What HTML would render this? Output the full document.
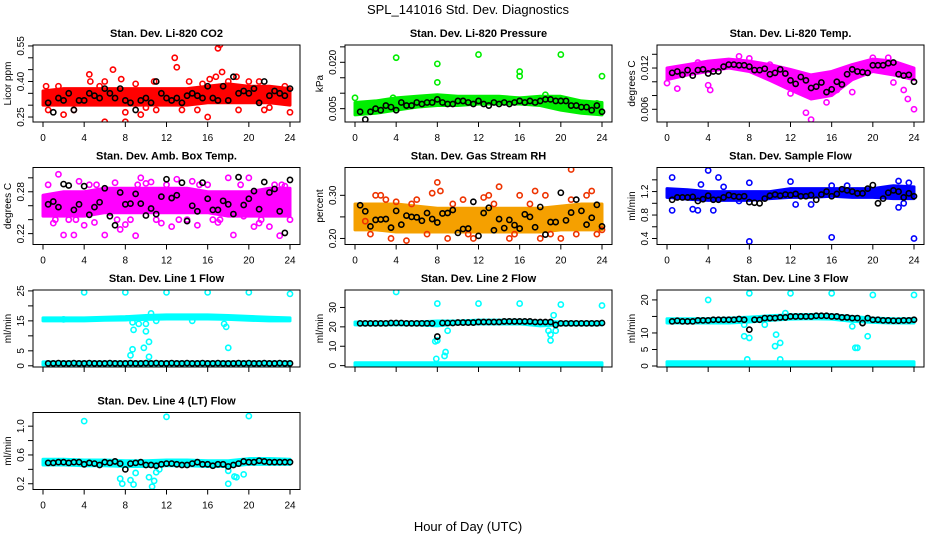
<!DOCTYPE html>
<html><head><meta charset="utf-8"><style>
html,body{margin:0;padding:0;background:#fff;}
svg{display:block;font-family:"Liberation Sans",sans-serif;}
</style></head><body>
<svg id="chart" width="936" height="540" viewBox="0 0 936 540" xmlns="http://www.w3.org/2000/svg">
<rect width="936" height="540" fill="#fff"/>
<text x="468" y="14" text-anchor="middle" font-size="13">SPL_141016  Std. Dev. Diagnostics</text>
<text x="468" y="531" text-anchor="middle" font-size="13">Hour of Day (UTC)</text>
</svg>
<script>
const bandHours=[0,2,4,6,8,10,12,14,16,18,20,22,24];
const blackHours=[0.5,1,1.5,2,2.5,3,3.5,4,4.5,5,5.5,6,6.5,7,7.5,8,8.5,9,9.5,10,10.5,11,11.5,12,12.5,13,13.5,14,14.5,15,15.5,16,16.5,17,17.5,18,18.5,19,19.5,20,20.5,21,21.5,22,22.5,23,23.5,24];
const xTicks=[0,4,8,12,16,20,24];

const co2BandLow=[.30,.30,.30,.30,.30,.30,.30,.30,.31,.31,.31,.31,.30];
const co2BandHigh=[.36,.37,.37,.37,.37,.37,.37,.37,.38,.39,.38,.38,.37];
const co2OutX=[0.3,0.5,2,4.5,4.6,6,6,6.8,7.6,8,8,9.5,10.8,11,12.8,13,14.2,15,16,16.2,16.8,17,17.2,17.4,18,18.8,20,21.5,23.5,24,3,10,13.5,19,22,1.5,5.5,9,15.5,21];
const co2OutY=[.38,.28,.26,.43,.40,.40,.23,.45,.41,.23,.27,.26,.40,.28,.50,.46,.40,.28,.25,.41,.42,.54,.555,.44,.40,.42,.40,.28,.38,.27,.28,.29,.28,.28,.29,.38,.38,.39,.39,.40];
const co2Black=[.31,.27,.33,.32,.35,.28,.32,.32,.35,.34,.33,.37,.35,.33,.37,.32,.31,.28,.32,.33,.31,.40,.35,.33,.32,.33,.31,.34,.35,.34,.33,.38,.33,.32,.38,.32,.42,.35,.36,.35,.37,.31,.40,.34,.36,.35,.34,.37];

const presBandLow=[.003,.0035,.0045,.0055,.006,.006,.0065,.0065,.0065,.006,.0045,.0035,.003];
const presBandHigh=[.007,.0075,.0085,.009,.0095,.009,.009,.009,.0085,.009,.009,.0075,.007];
const presOutX=[0,4,8,8,12,16,16,20,24,23.5,18.5,3.7];
const presOutY=[.0085,.0215,.0195,.0135,.0225,.017,.0155,.0225,.0155,.0067,.0095,.0085];
const presBlack=[.004,.0015,.004,.005,.0045,.006,.0055,.0045,.007,.006,.006,.007,.0065,.007,.007,.008,.007,.0065,.0065,.0075,.0075,.007,.0065,.0075,.0065,.006,.007,.0065,.007,.0065,.007,.0075,.007,.0075,.007,.0075,.008,.008,.0075,.0075,.0075,.006,.006,.0055,.0055,.0045,.006,.004];

const tempBandLow=[.0103,.011,.0115,.012,.0115,.0102,.0088,.0075,.008,.0103,.0115,.011,.0103];
const tempBandHigh=[.012,.0125,.013,.0133,.013,.0125,.0118,.011,.0115,.0125,.0133,.013,.012];
const tempOutX=[0,1,3,4,4.2,7,8,10,12,13.5,14,15.5,16.5,18,20,21.5,22,23.4,24,23,11.5,9];
const tempOutY=[.0098,.009,.0128,.0095,.0088,.0137,.0134,.0125,.0083,.0055,.0045,.007,.0088,.0085,.0135,.0135,.0099,.0075,.006,.0088,.0113,.012];
const tempBlack=[.0113,.0115,.011,.0117,.0109,.0117,.0118,.0112,.0115,.0115,.0122,.0125,.0125,.0124,.0124,.0122,.0117,.0117,.0119,.0111,.0113,.0118,.0112,.0102,.0097,.0107,.0102,.0091,.0093,.0099,.0085,.0089,.0100,.0096,.0111,.0118,.0115,.0114,.0113,.0124,.0124,.0124,.0127,.0128,.0111,.0109,.0110,.0100];

const boxBandLow=[.245,.245,.245,.25,.25,.25,.25,.25,.25,.245,.245,.245,.245];
const boxBandHigh=[.275,.28,.28,.285,.285,.285,.285,.285,.28,.28,.28,.285,.285];
const boxOutX=[0.5,1,1.5,2,3,3.5,4,4.5,5,5.5,6,7,7.5,8,8.5,9,9.5,10,10.5,11,12,12.5,13,14,14.5,15,16,16.5,17,18,18.5,19.5,20,20.5,21,22,22.5,23,23.5,24,0.2,2.5,6.5,11.5,19,21.5,1.2,3.2,5.2,7.2,9.2,13.2,15.2,17.2,19.2,21.2,23.2];
const boxOutY=[.29,.235,.305,.218,.218,.295,.232,.29,.236,.27,.218,.293,.226,.233,.24,.217,.3,.292,.294,.24,.29,.23,.298,.24,.295,.232,.29,.24,.236,.3,.218,.245,.3,.23,.235,.23,.29,.217,.288,.24,.26,.24,.25,.235,.25,.27,.24,.24,.29,.24,.29,.24,.29,.24,.29,.24,.29];
const boxBlack=[.262,.266,.258,.291,.289,.254,.262,.288,.247,.258,.265,.285,.245,.232,.279,.262,.263,.277,.263,.246,.256,.248,.273,.298,.271,.275,.293,.238,.26,.252,.293,.27,.254,.254,.267,.262,.248,.301,.261,.27,.281,.255,.294,.279,.284,.252,.221,.297];

const rhBandLow=[.22,.22,.215,.215,.215,.215,.215,.215,.215,.215,.22,.22,.22];
const rhBandHigh=[.28,.28,.28,.275,.27,.27,.27,.27,.27,.27,.275,.28,.28];
const rhOutX=[1,2,2.5,3.5,4,5,6,7.5,8,8.3,9,10.5,11.5,12.5,13,14,15,16,17.5,18,18.5,21,21.5,23,22.5,20,24,1.5,3,5.5,7,9.5,11,13.5,15.5,17,19,21,23.5];
const rhOutY=[.24,.3,.3,.2,.285,.195,.29,.305,.33,.31,.2,.29,.2,.295,.3,.32,.2,.3,.31,.2,.3,.36,.21,.31,.3,.2,.22,.21,.29,.28,.21,.28,.21,.28,.21,.28,.21,.29,.21];
const rhBlack=[.277,.263,.228,.243,.244,.245,.225,.264,.232,.253,.25,.249,.241,.259,.245,.237,.258,.259,.266,.213,.222,.223,.285,.206,.259,.271,.219,.245,.224,.243,.231,.223,.256,.25,.226,.273,.209,.238,.238,.306,.242,.26,.29,.264,.232,.248,.278,.228];

const flowBandLow=[1.1,1.07,1.05,1.05,1.05,1.08,1.1,1.1,1.12,1.1,1.1,1.08,1.08];
const flowBandHigh=[1.25,1.23,1.2,1.2,1.2,1.2,1.25,1.25,1.25,1.25,1.25,1.3,1.28];
const flowOutX=[0.5,0.5,2.5,3,4,4.5,5,8,8,12,12.5,14,16,16,17.5,22.5,22.5,23.5,24,23,3.3,5.5,7];
const flowOutY=[1.44,0.88,0.9,0.88,1.56,0.88,1.44,1.35,0.35,1.37,0.98,0.98,0.42,1.3,1.3,0.93,1.38,1.35,0.4,1.0,1.32,1.28,1.04];
const flowBlack=[1.06,1.1,1.1,1.1,1.11,1.04,1.07,1.13,1.06,1.06,1.10,1.14,1.12,1.11,1.12,1.02,1.01,1.0,1.08,1.13,1.15,1.13,1.15,1.14,1.16,1.12,1.12,1.14,1.06,1.15,1.2,1.12,1.16,1.24,1.22,1.2,1.17,1.17,1.25,1.31,1.0,1.08,1.18,1.22,1.2,1.1,1.17,1.12];

const l1BandLow=[15,15,15,15.2,15.3,15.5,15.6,15.6,15.6,15.5,15.2,15,15];
const l1BandHigh=[16,16,16,16.2,16.4,16.8,17,17,17,16.8,16.5,16.2,16];
const l1Band2Low=[0.3,0.3,0.3,0.3,0.3,0.3,0.3,0.3,0.3,0.3,0.3,0.3,0.3];
const l1Band2High=[1.3,1.3,1.3,1.3,1.3,1.3,1.3,1.3,1.3,1.3,1.3,1.3,1.3];
const l1OutX=[4,8,12,16,20,24,8.7,8.8,9.3,10,10,10.3,9.8,8.7,8.5,10.3,11,14.5,17.6,17.8,18,10.5,2];
const l1OutY=[24.5,24.5,24.5,24.5,24.5,24,14.5,12,14,14,11.5,8,6,5.5,3.5,3,15,15,14,13,6,17.5,15.5];
const l1Black=[.8,.8,.9,.8,.8,.9,.8,.8,.9,.8,.8,.8,.9,.8,.8,.8,.9,.8,.8,.9,.8,.9,.8,.8,.9,.8,.8,.9,.8,.8,.9,.8,.8,.9,.8,.8,.8,.9,.8,.9,.8,.8,.9,.8,.8,.9,.8,.8];

const l2BandLow=[21,21,21,21,20.5,21.5,21.5,21.5,21.5,20.5,21,21,21];
const l2BandHigh=[22.5,22.5,22.5,22.5,23,23,23.5,23.5,23.5,23,22.5,22.5,22.5];
const l2Band2Low=[0,0,0,0,0,0,0,0,0,0,0,0,0];
const l2Band2High=[1.5,1.5,1.5,1.5,1.5,1.5,1.5,1.5,1.5,1.5,1.5,1.5,1.5];
const l2OutX=[4,8,12,16,20,24,7.8,8,7.9,8.7,8.8,9,19,19.3,19.5,19,18.8];
const l2OutY=[38,32,32,32,31.5,31,12.5,13,3.5,5,7,18,13,26,18,16,18];
const l2Black=[21.8,21.8,21.8,21.8,21.8,21.8,22,22,22,21.8,21.8,21.8,21.8,21.8,21.8,15,22,22,22,22.2,22.2,22.2,22.2,22.5,22.5,22.5,22.5,22.5,22.8,22.8,22.8,22.8,22.8,22.8,22.5,22.5,22.5,22.5,21,21.8,21.8,21.8,21.8,21.8,21.8,21.8,21.8,22];

const l3BandLow=[13,13,13,13,13.3,13.8,14.2,14.3,14.2,13.5,13.2,13,13];
const l3BandHigh=[14.3,14.3,14.3,14.5,14.8,15.2,15.5,15.6,15.5,15,14.5,14.3,14.3];
const l3Band2Low=[0.2,0.2,0.2,0.2,0.2,0.2,0.2,0.2,0.2,0.2,0.2,0.2,0.2];
const l3Band2High=[1.3,1.3,1.3,1.3,1.3,1.3,1.3,1.3,1.3,1.3,1.3,1.3,1.3];
const l3OutX=[4,8,12,16,20,24,7.5,8,7.8,10.5,10.6,11,11,11.5,9.5,18,19.5,18.5,18.3,7.5];
const l3OutY=[20,22,22,22,21.5,21.5,9,8.5,2,6,9.5,7,2,16,12.5,12,9,5.5,5.5,12.5];
const l3Black=[13.5,13.7,13.5,13.5,13.5,13.8,13.8,13.8,14,14,14,14,14,14.2,14,11,14,14,14.5,14.5,14.5,14.7,14.7,15,15,15,15,15,15.2,15.2,15.2,15,15,14.7,14.7,14.5,14.5,13,14.5,14,14,13.8,13.8,13.7,13.7,13.8,13.8,14];

const l4BandLow=[.46,.46,.45,.45,.44,.44,.45,.45,.44,.44,.47,.47,.47];
const l4BandHigh=[.54,.54,.53,.53,.52,.52,.53,.53,.52,.52,.55,.55,.54];
const l4OutX=[4,12,20,7.5,7.7,8.5,8.8,9,10.3,10.6,10.8,11,18,18,18.6,18.8,19.5,11.3];
const l4OutY=[1.07,1.13,1.14,.27,.2,.25,.19,.35,.29,.16,.24,.36,.38,.2,.3,.29,.33,.4];
const l4Black=[.49,.49,.5,.5,.49,.5,.5,.47,.49,.48,.46,.5,.49,.51,.48,.4,.48,.49,.5,.46,.46,.45,.47,.48,.48,.47,.46,.46,.48,.5,.47,.47,.45,.47,.47,.44,.46,.48,.51,.5,.5,.52,.51,.5,.5,.5,.5,.5];

const panels=[
 {id:'co2',title:'Stan. Dev. Li-820 CO2',ylab:'Licor ppm',col:0,row:0,ymin:.229,ymax:.554,ticks:[.25,.30,.35,.40,.45,.50,.55],labels:['0.25','','','0.40','','','0.55'],color:'#ff0000',edge:'#ff0000',bands:[[co2BandLow,co2BandHigh]],ox:co2OutX,oy:co2OutY,black:co2Black,xl:true},
 {id:'pressure',title:'Stan. Dev. Li-820 Pressure',ylab:'kPa',col:1,row:0,ymin:.00068,ymax:.0256,ticks:[.005,.010,.015,.020,.025],labels:['0.005','','','0.020',''],color:'#00ee00',edge:'#00ee00',bands:[[presBandLow,presBandHigh]],ox:presOutX,oy:presOutY,black:presBlack,xl:true},
 {id:'li820-temp',title:'Stan. Dev. Li-820 Temp.',ylab:'degrees C',col:2,row:0,ymin:.00415,ymax:.01535,ticks:[.006,.008,.010,.012,.014],labels:['0.006','','','0.012',''],color:'#ff00ff',edge:'#ff00ff',bands:[[tempBandLow,tempBandHigh]],ox:tempOutX,oy:tempOutY,black:tempBlack,xl:true},
 {id:'box-temp',title:'Stan. Dev. Amb. Box Temp.',ylab:'degrees C',col:0,row:1,ymin:.2044,ymax:.3148,ticks:[.22,.24,.26,.28,.30],labels:['0.22','','','0.28',''],color:'#ff00ff',edge:'#ff00ff',bands:[[boxBandLow,boxBandHigh]],ox:boxOutX,oy:boxOutY,black:boxBlack,xl:true},
 {id:'gas-rh',title:'Stan. Dev. Gas Stream RH',ylab:'percent',col:1,row:1,ymin:.186,ymax:.3645,ticks:[.20,.25,.30],labels:['0.20','','0.30'],color:'#f5a000',edge:'#ee3300',bands:[[rhBandLow,rhBandHigh]],ox:rhOutX,oy:rhOutY,black:rhBlack,xl:true},
 {id:'sample-flow',title:'Stan. Dev. Sample Flow',ylab:'ml/min',col:2,row:1,ymin:.298,ymax:1.61,ticks:[.4,.6,.8,1.0,1.2,1.4],labels:['0.4','','0.8','','1.2',''],color:'#0000ff',edge:'#0000ff',bands:[[flowBandLow,flowBandHigh]],ox:flowOutX,oy:flowOutY,black:flowBlack,xl:true},
 {id:'line1',title:'Stan. Dev. Line 1 Flow',ylab:'ml/min',col:0,row:2,ymin:-.4,ymax:25.3,ticks:[0,5,10,15,20,25],labels:['0','5','','15','','25'],color:'#00ffff',edge:'#00ffff',bands:[[l1BandLow,l1BandHigh],[l1Band2Low,l1Band2High]],ox:l1OutX,oy:l1OutY,black:l1Black,xl:false},
 {id:'line2',title:'Stan. Dev. Line 2 Flow',ylab:'ml/min',col:1,row:2,ymin:-.7,ymax:39,ticks:[0,10,20,30],labels:['0','10','20','30'],color:'#00ffff',edge:'#00ffff',bands:[[l2BandLow,l2BandHigh],[l2Band2Low,l2Band2High]],ox:l2OutX,oy:l2OutY,black:l2Black,xl:false},
 {id:'line3',title:'Stan. Dev. Line 3 Flow',ylab:'ml/min',col:2,row:2,ymin:-.3,ymax:23,ticks:[0,5,10,15,20],labels:['0','5','10','','20'],color:'#00ffff',edge:'#00ffff',bands:[[l3BandLow,l3BandHigh],[l3Band2Low,l3Band2High]],ox:l3OutX,oy:l3OutY,black:l3Black,xl:false},
 {id:'line4',title:'Stan. Dev. Line 4 (LT) Flow',ylab:'ml/min',col:0,row:3,ymin:.12,ymax:1.19,ticks:[.2,.4,.6,.8,1.0],labels:['0.2','','0.6','','1.0'],color:'#00ffff',edge:'#00ffff',bands:[[l4BandLow,l4BandHigh]],ox:l4OutX,oy:l4OutY,black:l4Black,xl:true}
];

const NS='http://www.w3.org/2000/svg';
const svg=document.getElementById('chart');
function mk(tag,attrs,parent){const e=document.createElementNS(NS,tag);for(const k in attrs)e.setAttribute(k,attrs[k]);parent.appendChild(e);return e;}

panels.forEach(p=>{
  const left=33+312*p.col, top=45+122.5*p.row, W=267, H=77, bottom=top+H;
  const xs=h=>left+10+h*(247/24);
  const ys=v=>bottom-(v-p.ymin)/(p.ymax-p.ymin)*H;
  const g=mk('g',{},svg);
  
  
  const clipId='clip-'+p.id;
  const cp=mk('clipPath',{id:clipId},g);
  mk('rect',{x:left,y:top,width:W,height:H},cp);
  const plot=mk('g',{'clip-path':'url(#'+clipId+')'},g);
  p.bands.forEach(b=>{
    let pts=bandHours.map((h,i)=>xs(h)+','+ys(b[1][i]));
    pts=pts.concat(bandHours.slice().reverse().map((h,j)=>{const i=bandHours.length-1-j;return xs(h)+','+ys(b[0][i]);}));
    const band=mk('polygon',{points:pts.join(' '),fill:p.color,stroke:p.color,'stroke-width':3,'stroke-linejoin':'round'},plot);
    
    
  });
  p.ox.forEach((h,i)=>{
    const c=mk('circle',{cx:xs(h),cy:ys(p.oy[i]),r:2.6,fill:'none',stroke:p.edge,'stroke-width':1.6},plot);
    
    
  });
  p.black.forEach((v,i)=>{
    const c=mk('circle',{cx:xs(blackHours[i]),cy:ys(v),r:2.6,fill:'none',stroke:'#000','stroke-width':1.6},plot);
    
    
  });
  const box=mk('rect',{x:left,y:top,width:W,height:H,fill:'none',stroke:'#000','stroke-width':1},g);
  
  
  const t=mk('text',{x:left+W/2,y:top-8,'text-anchor':'middle','font-size':11,'font-weight':'bold'},g);
  t.textContent=p.title;
  
  
  const yl=mk('text',{x:0,y:0,'text-anchor':'middle','font-size':10,transform:'translate('+(left-22)+','+(top+H/2)+') rotate(-90)'},g);
  yl.textContent=p.ylab;
  
  
  p.ticks.forEach((v,i)=>{
    const y=ys(v);
    mk('line',{x1:left,x2:left-5,y1:y,y2:y,stroke:'#000','stroke-width':1},g);
    if(p.labels[i]){
      const tl=mk('text',{x:0,y:0,'text-anchor':'middle','font-size':10,transform:'translate('+(left-9)+','+y+') rotate(-90)'},g);
      tl.textContent=p.labels[i];
      
      
    }
  });
  xTicks.forEach(h=>{
    const x=xs(h);
    mk('line',{x1:x,x2:x,y1:bottom,y2:bottom+5,stroke:'#000','stroke-width':1},g);
    if(p.xl){
      const xt=mk('text',{x:x,y:bottom+19,'text-anchor':'middle','font-size':10},g);
      xt.textContent=String(h);
      
      
    }
  });
});
</script>
</body></html>
